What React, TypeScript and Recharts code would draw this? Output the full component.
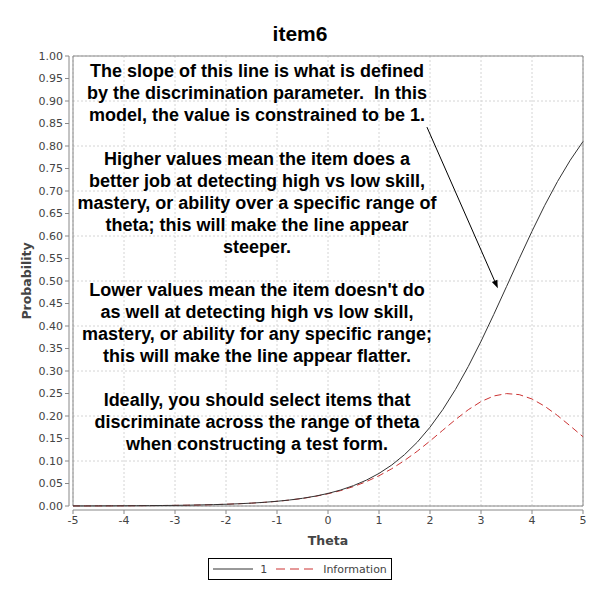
import { LineChart, Line, XAxis, YAxis, CartesianGrid, Legend, ReferenceArea, ReferenceLine } from 'recharts';

const title = 'item6';
const seriesNames = ['1', 'Information'];

const thetaValues = [
    -5, -4.75, -4.5, -4.25, -4, -3.75, -3.5, -3.25, -3, -2.75, -2.5, -2.25, -2, -1.75, -1.5, -1.25, -1, -0.75, -0.5, -0.25,
    0, 0.25, 0.5, 0.75, 1, 1.25, 1.5, 1.75, 2, 2.25, 2.5, 2.75, 3, 3.25, 3.5, 3.75, 4, 4.25, 4.5, 4.75, 5,
];

const probability = [
    0.0002, 0.0002, 0.0003, 0.0004, 0.0005, 0.0007, 0.0009, 0.0011, 0.0014, 0.0018, 0.0024, 0.003, 0.0039, 0.005, 0.0064,
    0.0082, 0.0105, 0.0134, 0.0171, 0.0219, 0.0279, 0.0356, 0.0453, 0.0573, 0.0724, 0.0911, 0.1141, 0.1418, 0.1751,
    0.2142, 0.2592, 0.31, 0.3659, 0.4256, 0.4875, 0.5498, 0.6106, 0.6682, 0.7211, 0.7685, 0.81,
];

const information = [
    0.0002, 0.0002, 0.0003, 0.0004, 0.0005, 0.0007, 0.0009, 0.0011, 0.0014, 0.0018, 0.0023, 0.003, 0.0039, 0.005, 0.0063,
    0.0081, 0.0104, 0.0132, 0.0168, 0.0214, 0.0272, 0.0343, 0.0432, 0.054, 0.0672, 0.0828, 0.1011, 0.1217, 0.1444,
    0.1683, 0.192, 0.2139, 0.232, 0.2445, 0.2498, 0.2475, 0.2378, 0.2217, 0.2011, 0.1779, 0.1539,
];

const xTicks = [-5, -4, -3, -2, -1, 0, 1, 2, 3, 4, 5];
const yTicks = [
    0, 0.05, 0.1, 0.15, 0.2, 0.25, 0.3, 0.35, 0.4, 0.45, 0.5, 0.55, 0.6, 0.65, 0.7, 0.75, 0.8, 0.85, 0.9, 0.95, 1,
];

const noteLines = [
    'The slope of this line is what is defined',
    'by the discrimination parameter.  In this',
    'model, the value is constrained to be 1.',
    '',
    'Higher values mean the item does a',
    'better job at detecting high vs low skill,',
    'mastery, or ability over a specific range of',
    'theta; this will make the line appear',
    'steeper.',
    '',
    "Lower values mean the item doesn't do",
    'as well at detecting high vs low skill,',
    'mastery, or ability for any specific range;',
    'this will make the line appear flatter.',
    '',
    'Ideally, you should select items that',
    'discriminate across the range of theta',
    'when constructing a test form.',
];

// arrow from the note down to the curve, in data units
const arrowSegment = [
    { x: 1.94, y: 0.842 },
    { x: 3.33, y: 0.484 },
];

const data = thetaValues.map((theta, i) => ({
    theta,
    p: probability[i],
    info: information[i],
}));

const tickStyle = { fontFamily: 'DejaVu Sans', fontSize: 11, fill: '#444' };

const Arrow = (props: any) => {
    const { x1, y1, x2, y2 } = props;
    const ang = Math.atan2(y2 - y1, x2 - x1);
    const len = 8;
    const w = 3;
    const bx = x2 - len * Math.cos(ang);
    const by = y2 - len * Math.sin(ang);
    const p1 = `${bx + w * Math.sin(ang)},${by - w * Math.cos(ang)}`;
    const p2 = `${bx - w * Math.sin(ang)},${by + w * Math.cos(ang)}`;
    return (
        <g>
            <line x1={x1} y1={y1} x2={bx} y2={by} stroke="#000" strokeWidth={1} />
            <polygon points={`${x2},${y2} ${p1} ${p2}`} fill="#000" />
        </g>
    );
};

const LegendBox = () => (
    <div style={{ height: 44, display: 'flex', justifyContent: 'center' }}>
        <div
            style={{
                marginTop: 2,
                height: 20,
                border: '1px solid #000',
                display: 'flex',
                alignItems: 'center',
                padding: '0 4px',
                fontFamily: 'DejaVu Sans',
                fontSize: 11,
                color: '#444',
                background: '#fff',
            }}
        >
            <svg width={40} height={4}>
                <line x1={0} y1={2} x2={40} y2={2} stroke="#333" strokeWidth={1} />
            </svg>
            <span style={{ margin: '0 9px 0 7px', color: '#444' }}>{seriesNames[0]}</span>
            <svg width={42} height={4}>
                <line x1={0} y1={2} x2={42} y2={2} stroke="#cc3333" strokeWidth={1} strokeDasharray="9 5" />
            </svg>
            <span style={{ marginLeft: 5, color: '#444' }}>{seriesNames[1]}</span>
        </div>
    </div>
);

export default function App() {
    return (
        <div style={{ position: 'absolute', left: 0, top: 0, width: 600, height: 600, background: '#fff' }}>
            <LineChart width={600} height={600} data={data} margin={{ top: 56, right: 17, bottom: 0, left: 0 }}>
                <CartesianGrid stroke="#d4d4d4" strokeDasharray="2 2" />
                <XAxis
                    dataKey="theta"
                    type="number"
                    domain={[-5, 5]}
                    ticks={xTicks}
                    height={50}
                    tick={tickStyle}
                    tickSize={4}
                    tickMargin={6}
                    axisLine={{ stroke: '#888', transform: 'translate(0,4)' }}
                    tickLine={{ stroke: '#888', transform: 'translate(0,4)' }}
                    label={{
                        value: 'Theta',
                        position: 'insideBottom',
                        offset: 11,
                        style: { fontFamily: 'DejaVu Sans', fontSize: 12.5, fontWeight: 'bold', fill: '#444' },
                    }}
                />
                <YAxis
                    type="number"
                    domain={[0, 1]}
                    ticks={yTicks}
                    width={73}
                    tick={tickStyle}
                    tickSize={4}
                    tickMargin={6}
                    tickFormatter={(v: number) => v.toFixed(2)}
                    axisLine={{ stroke: '#888', transform: 'translate(-4,0)' }}
                    tickLine={{ stroke: '#888', transform: 'translate(-4,0)' }}
                />
                <ReferenceArea x1={-5} x2={5} y1={0} y2={1} fill="none" stroke="#888" strokeWidth={1} />
                <Line
                    type="linear"
                    dataKey="info"
                    name={seriesNames[1]}
                    stroke="#cc3333"
                    strokeWidth={1}
                    strokeDasharray="7 4"
                    dot={false}
                    isAnimationActive={false}
                />
                <Line
                    type="linear"
                    dataKey="p"
                    name={seriesNames[0]}
                    stroke="#333"
                    strokeWidth={1}
                    dot={false}
                    isAnimationActive={false}
                />
                <ReferenceLine segment={arrowSegment} shape={Arrow} />
                <Legend verticalAlign="bottom" content={<LegendBox />} wrapperStyle={{ left: 0, width: 600 }} />
            </LineChart>

            <svg
                width={600}
                height={600}
                style={{ position: 'absolute', left: 0, top: 0, pointerEvents: 'none' }}
            >
                <text
                    x={300}
                    y={41}
                    textAnchor="middle"
                    style={{ fontFamily: 'Liberation Sans', fontSize: 21, fontWeight: 'bold' }}
                    fill="#000"
                >
                    {title}
                </text>
                <text
                    x={26}
                    y={281}
                    transform="rotate(-90, 26, 281)"
                    textAnchor="middle"
                    dominantBaseline="central"
                    style={{ fontFamily: 'DejaVu Sans', fontSize: 12.5, fontWeight: 'bold' }}
                    fill="#444"
                >
                    Probability
                </text>
                {noteLines.map((line, i) =>
                    line ? (
                        <text
                            key={i}
                            x={257}
                            y={77 + i * 21.94}
                            textAnchor="middle"
                            style={{ fontFamily: 'Liberation Sans', fontSize: 18, fontWeight: 'bold', whiteSpace: 'pre' }}
                            fill="#000"
                        >
                            {line}
                        </text>
                    ) : null
                )}
            </svg>
        </div>
    );
}
